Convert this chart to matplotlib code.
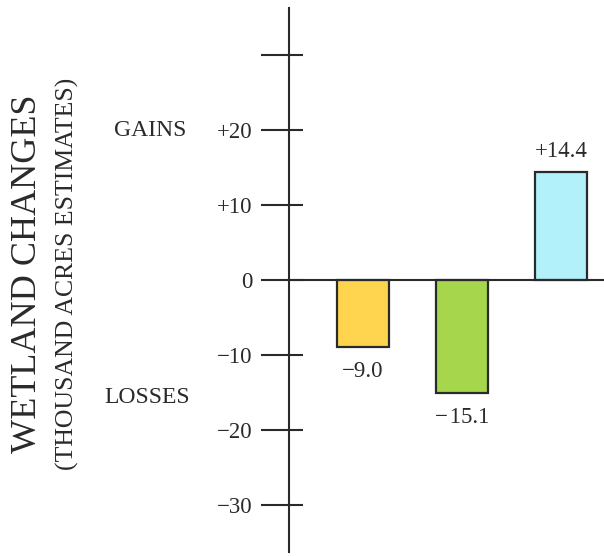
import matplotlib
matplotlib.use('Agg')
import matplotlib.pyplot as plt
import matplotlib.transforms as mtransforms

# values (thousand acres)
categories = ['A', 'B', 'C']
changes = [-9.0, -15.1, 14.4]
bar_labels = ['\u22129.0', '\u2212\u200a15.1', '+14.4']
bar_colors = ['#FFD54F', '#A6D64C', '#B2F0FA']
tick_values = [30, 20, 10, 0, -10, -20, -30]
tick_labels = ['', '+20', '+10', '0', '\u221210', '\u221220', '\u221230']

plt.rcParams['font.family'] = ['Liberation Serif', 'DejaVu Serif']
ink = '#2a2a2a'

fig = plt.figure(figsize=(6.04, 5.56), dpi=100)
W, H = 604, 556
ax = fig.add_axes([289 / W, 1 - 552 / H, 1 - 289 / W, 544 / H])

x = list(range(len(categories)))
ax.bar(x, changes, width=0.52, color=bar_colors, edgecolor=ink, linewidth=1.6, zorder=2)
ax.axhline(0, color=ink, linewidth=1.5, zorder=3)

ax.set_xlim(-0.747, 2.434)
ax.set_ylim(-36.27, 36.27)

for s in ['top', 'right', 'bottom']:
    ax.spines[s].set_visible(False)
ax.spines['left'].set_color(ink)
ax.spines['left'].set_linewidth(1.5)
ax.set_xticks([])

# long tick outside, short tick inside
ax.yaxis.remove_overlapping_locs = False
ax.set_yticks(tick_values)
ax.set_yticklabels(tick_labels)
ax.set_yticks(tick_values, minor=True)
ax.tick_params(axis='y', which='major', direction='out', length=20, width=1.5,
               color=ink, pad=6.5, labelsize=16.5, labelcolor=ink)
ax.tick_params(axis='y', which='minor', direction='in', length=10, width=1.5, color=ink)

# value labels
for xi, v, lab in zip(x, changes, bar_labels):
    if v < 0:
        ax.text(xi, v - 1.8, lab, ha='center', va='top', fontsize=16.5, color=ink)
    else:
        ax.text(xi, v + 1.4, lab, ha='center', va='bottom', fontsize=16.5, color=ink)

trans = mtransforms.blended_transform_factory(fig.transFigure, ax.transData)
fig.text(186 / W, 20, 'GAINS', transform=trans, ha='right', va='center', fontsize=17, color=ink)
fig.text(190 / W, -15.7, 'LOSSES', transform=trans, ha='right', va='center', fontsize=17, color=ink)

fig.text(28 / W, 1 - 274 / H, 'WETLAND CHANGES', rotation=90, ha='center', va='center',
         fontsize=26, color=ink)
fig.text(67 / W, 1 - 274 / H, '(THOUSAND ACRES ESTIMATES)', rotation=90, ha='center',
         va='center', fontsize=18.5, color=ink)

fig.savefig('out.png', dpi=100, facecolor='white')
